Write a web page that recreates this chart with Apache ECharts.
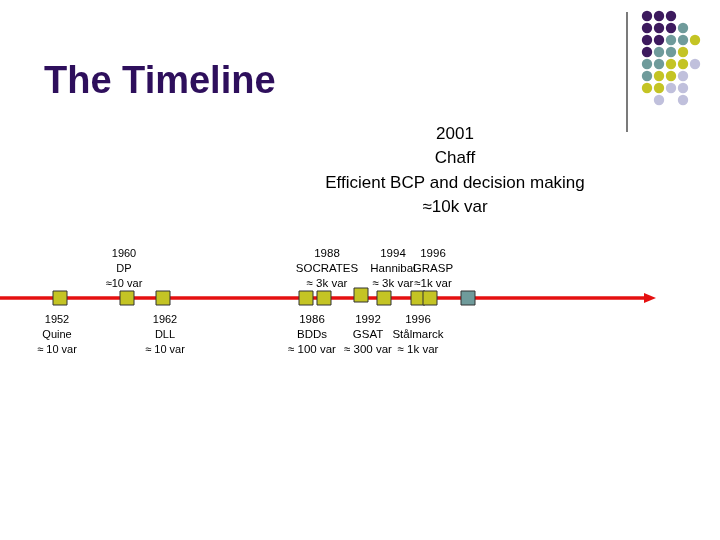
<!DOCTYPE html>
<html><head><meta charset="utf-8">
<script src="https://cdn.jsdelivr.net/npm/echarts@6/dist/echarts.min.js"></script>
<style>html,body{margin:0;background:#fff}#main{width:720px;height:540px}</style>
</head><body><div id="main"></div>
<script>
// timeline slots (horizontal position along the arrow)
const markerPos = [60, 127, 163, 306, 324, 361, 384, 418, 430, 468];
const markerLift = [0, 0, 0, 0, 0, -3, 0, 0, 0, 0];
const markerColor = ['#c4c424','#c4c424','#c4c424','#c4c424','#c4c424','#c4c424','#c4c424','#c4c424','#c4c424','#6f9b9b'];
// events: label slot, side (1 above, -1 below), text
const eventPos = [57, 124, 165, 312, 327, 368, 393, 418, 433];
const eventSide = [-1, 1, -1, -1, 1, -1, 1, -1, 1];
const eventText = [
  '1952\nQuine\n\u2248 10 var', '1960\nDP\n\u224810 var', '1962\nDLL\n\u2248 10 var',
  '1986\nBDDs\n\u2248 100 var', '1988\nSOCRATES\n\u2248 3k var', '1992\nGSAT\n\u2248 300 var',
  '1994\nHannibal\n\u2248 3k var', '1996\nSt\u00e5lmarck\n\u2248 1k var', '1996\nGRASP\n\u22481k var'
];
const chaffText = '2001\nChaff\nEfficient BCP and decision making\n\u224810k var';
const dotRows = ['PPP','PPPT','PPTTY','PTTY','TTYYL','TYYL','YYLL','.L.L'];
const dotColors = {P:'#3d1a5e', T:'#6f9b9b', Y:'#c4c424', L:'#c0c0dc'};

const chart = echarts.init(document.getElementById('main'));
const g = [];
dotRows.forEach((row, r) => row.split('').forEach((c, i) => {
  if (c !== '.') g.push({type:'circle', shape:{cx:647 + i*12, cy:16 + r*12, r:5.2}, style:{fill:dotColors[c]}});
}));
g.push({type:'line', shape:{x1:627, y1:12, x2:627, y2:132}, style:{stroke:'#222', lineWidth:1.2}});
g.push({type:'text', left:44, top:64, style:{text:'The Timeline', font:'bold 38px Liberation Sans', fill:'#2e0f5c'}});

const labelData = eventPos.map((p, i) => ({
  value: [p, eventSide[i] > 0 ? 291 : 312],
  label: {show:true, formatter: eventText[i], position: eventSide[i] > 0 ? 'top' : 'bottom', distance:0,
    fontSize: i < 3 ? 11 : 11.5, lineHeight: 15, color:'#000', fontFamily:'Liberation Sans'}
}));
labelData.push({value:[455, 220], label:{show:true, formatter:chaffText, position:'top', distance:0,
  fontSize:17, lineHeight:24.5, color:'#000', fontFamily:'Liberation Sans'}});

chart.setOption({
  animation:false,
  graphic: g,
  grid:{left:0, right:0, top:0, bottom:0},
  xAxis:{type:'value', min:0, max:720, show:false},
  yAxis:{type:'value', min:0, max:540, inverse:true, show:false},
  series:[
    {type:'line', data:[[0,298],[645,298]], showSymbol:false, lineStyle:{color:'#e51010', width:3.5}, z:1,
     markPoint:{symbol:'triangle', symbolSize:[10,12], symbolRotate:-90, itemStyle:{color:'#e51010'}, data:[{coord:[650,298]}], label:{show:false}}},
    {type:'scatter', symbol:'rect', symbolSize:14, z:3,
     data: markerPos.map((p, i) => ({value:[p, 298 + markerLift[i]], itemStyle:{color:markerColor[i], borderColor:'#333', borderWidth:1, opacity:1}}))},
    {type:'scatter', symbolSize:0, data: labelData, z:4, itemStyle:{opacity:1}}
  ]
});
</script></body></html>
